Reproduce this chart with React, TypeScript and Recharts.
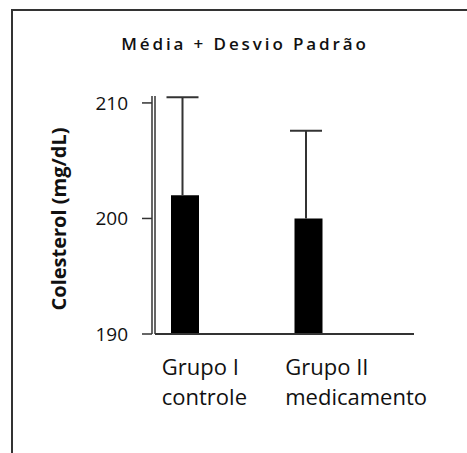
import React from 'react';
import { BarChart, Bar, XAxis, YAxis } from 'recharts';

const groups = ['Grupo I', 'Grupo II'];
const groupNotes = ['controle', 'medicamento'];
const means = [202, 200];
const stdDevs = [8.5, 7.6];
const yTicks = [190, 200, 210];

const data = groups.map((g, i) => ({ name: g, note: groupNotes[i], mean: means[i], sd: stdDevs[i] }));

const FONT = '"Open Sans", Arial, sans-serif';

const GroupTick = (props: any) => {
  const { x, y, payload } = props;
  const note = groupNotes[payload.index] ?? '';
  return (
    <text x={x - 23} y={y} textAnchor="start" fill="#111" fontSize={22} fontFamily={FONT}>
      <tspan x={x - 23} dy={33}>{payload.value}</tspan>
      <tspan x={x - 23} dy={30}>{note}</tspan>
    </text>
  );
};

// only the upper half of the deviation: a T above the bar
const UpperError = (props: any) => {
  const { x, y, width, height } = props;
  if (height == null || width == null) return null;
  const cx = x + width / 2 - 2.5;
  return (
    <g stroke="#333" strokeWidth={2}>
      <line x1={cx} y1={y} x2={cx} y2={y + height} />
      <line x1={cx - 16} y1={y} x2={cx + 16} y2={y} />
    </g>
  );
};

export default function App() {
  return (
    <div style={{ position: 'fixed', left: 0, top: 0, width: 467, height: 453, background: '#fff', overflow: 'hidden' }}>
      <style>{'html, body { overflow: hidden; margin: 0; }'}</style>
      {/* frame: only top and left edges are visible in the crop */}
      <div style={{ position: 'absolute', left: 11, top: 9, width: 456, height: 2, background: '#333' }} />
      <div style={{ position: 'absolute', left: 11, top: 9, width: 2, height: 444, background: '#333' }} />
      <div
        style={{
          position: 'absolute',
          left: 45,
          top: 33,
          width: 400,
          textAlign: 'center',
          fontFamily: FONT,
          fontSize: 17,
          fontWeight: 600,
          letterSpacing: 2.9,
          color: '#111',
          lineHeight: '22px',
        }}
      >
        Média + Desvio Padrão
      </div>
      <div style={{ position: 'absolute', left: 0, top: 0 }}>
        <BarChart width={467} height={453} data={data} margin={{ top: 96, right: 53, bottom: 59, left: 0 }}>
          <XAxis
            dataKey="name"
            height={60}
            padding={{ left: -32, right: 44 }}
            axisLine={{ stroke: '#333', strokeWidth: 2 }}
            tickLine={false}
            tick={<GroupTick />}
            interval={0}
          />
          <YAxis
            yAxisId="inner"
            width={3}
            domain={[190, 210.6]}
            allowDataOverflow
            ticks={yTicks}
            tick={false}
            tickLine={false}
            axisLine={{ stroke: '#333', strokeWidth: 1.5 }}
          />
          <YAxis
            yAxisId="main"
            width={152}
            domain={[190, 210.6]}
            allowDataOverflow
            ticks={yTicks}
            tickSize={10}
            tickMargin={14}
            axisLine={{ stroke: '#333', strokeWidth: 1.5 }}
            tickLine={{ stroke: '#333', strokeWidth: 1.5 }}
            tick={{ fill: '#111', fontSize: 19, fontFamily: FONT }}
            label={{
              value: 'Colesterol (mg/dL)',
              angle: -90,
              position: 'center',
              dx: -17,
              dy: 4,
              style: { fill: '#111', fontSize: 20, fontWeight: 700, fontFamily: FONT, textAnchor: 'middle' },
            }}
          />
          <Bar yAxisId="main" dataKey="mean" stackId="s" fill="#000" barSize={28} isAnimationActive={false} />
          <Bar yAxisId="main" dataKey="sd" stackId="s" fill="none" barSize={28} shape={<UpperError />} isAnimationActive={false} />
        </BarChart>
      </div>
    </div>
  );
}
